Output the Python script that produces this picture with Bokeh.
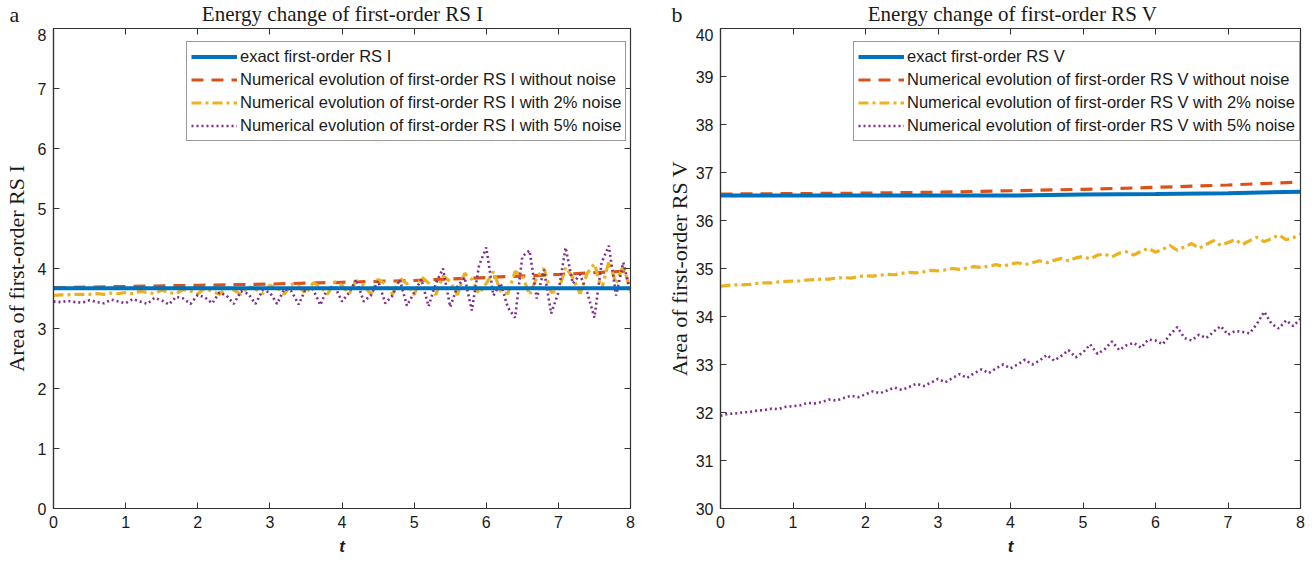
import numpy as np
from bokeh.plotting import figure
from bokeh.models import Range1d, LinearAxis, Legend, LegendItem, FixedTicker
from bokeh.layouts import row, column
from bokeh.core.properties import value
from bokeh.embed import file_html
from bokeh.resources import INLINE

# ---------------- data ----------------
t_coarse = [0, 1, 2, 3, 4, 5, 6, 7, 8]
t_fine = np.round(np.linspace(0, 8, 81), 2)

# Panel a: first-order RS I
a_exact = [3.67, 3.67, 3.67, 3.67, 3.67, 3.67, 3.67, 3.67, 3.67]
a_nonoise = [3.68, 3.70, 3.72, 3.74, 3.77, 3.80, 3.85, 3.90, 3.96]
a_noise2 = [3.55, 3.56, 3.56, 3.57, 3.57, 3.57, 3.58, 3.57, 3.59, 3.58,
            3.60, 3.58, 3.62, 3.60, 3.58, 3.64, 3.60, 3.58, 3.65, 3.62,
            3.58, 3.67, 3.62, 3.57, 3.68, 3.64, 3.57, 3.70, 3.66, 3.58,
            3.72, 3.68, 3.57, 3.74, 3.70, 3.58, 3.76, 3.70, 3.57, 3.78,
            3.72, 3.58, 3.80, 3.72, 3.57, 3.82, 3.74, 3.57, 3.84, 3.75,
            3.56, 3.86, 3.76, 3.56, 3.88, 3.78, 3.56, 3.92, 3.82, 3.58,
            3.75, 3.95, 3.62, 3.58, 3.95, 3.88, 3.56, 3.85, 4.00, 3.60,
            3.62, 4.02, 3.85, 3.58, 3.92, 4.08, 3.65, 4.12, 3.75, 4.05,
            3.62]
a_noise5 = [3.45, 3.44, 3.46, 3.44, 3.43, 3.47, 3.44, 3.42, 3.48, 3.45,
            3.42, 3.49, 3.45, 3.41, 3.51, 3.47, 3.40, 3.53, 3.50, 3.41,
            3.56, 3.52, 3.42, 3.60, 3.55, 3.41, 3.62, 3.58, 3.41, 3.64,
            3.60, 3.41, 3.66, 3.62, 3.40, 3.67, 3.65, 3.39, 3.68, 3.70,
            3.45, 3.60, 3.82, 3.45, 3.55, 3.80, 3.42, 3.55, 3.82, 3.38,
            3.60, 3.82, 3.37, 3.75, 4.00, 3.36, 3.70, 3.85, 3.30, 4.05,
            4.35, 3.55, 3.75, 3.35, 3.18, 4.20, 4.30, 3.50, 3.98, 3.25,
            3.60, 4.35, 3.75, 3.90, 3.60, 3.18, 4.10, 4.38, 3.55, 4.10,
            3.60]

# Panel b: first-order RS V
b_exact = [36.52, 36.52, 36.52, 36.52, 36.52, 36.54, 36.55, 36.57, 36.60]
b_nonoise = [36.55, 36.56, 36.57, 36.59, 36.62, 36.65, 36.69, 36.74, 36.80]
b_noise2 = [34.63, 34.65, 34.66, 34.66, 34.67, 34.69, 34.70, 34.70, 34.72, 34.73,
            34.74, 34.74, 34.76, 34.77, 34.78, 34.78, 34.80, 34.81, 34.80, 34.83,
            34.85, 34.84, 34.86, 34.88, 34.87, 34.90, 34.92, 34.91, 34.93, 34.96,
            34.95, 34.97, 35.00, 34.98, 35.01, 35.04, 35.02, 35.05, 35.08, 35.05,
            35.09, 35.12, 35.08, 35.12, 35.16, 35.12, 35.17, 35.21, 35.16, 35.22,
            35.25, 35.20, 35.28, 35.30, 35.24, 35.32, 35.35, 35.28, 35.36, 35.42,
            35.34, 35.40, 35.48, 35.38, 35.45, 35.52, 35.42, 35.50, 35.58, 35.48,
            35.54, 35.60, 35.50, 35.58, 35.65, 35.56, 35.62, 35.70, 35.60, 35.64,
            35.72]
b_noise5 = [31.93, 31.97, 31.98, 32.00, 32.01, 32.04, 32.05, 32.08, 32.07, 32.12,
            32.13, 32.15, 32.20, 32.19, 32.22, 32.27, 32.25, 32.30, 32.35, 32.32,
            32.38, 32.44, 32.40, 32.46, 32.52, 32.47, 32.53, 32.60, 32.55, 32.62,
            32.70, 32.63, 32.72, 32.80, 32.72, 32.82, 32.90, 32.82, 32.92, 33.00,
            32.92, 33.00, 33.10, 33.00, 33.08, 33.20, 33.08, 33.18, 33.30, 33.15,
            33.25, 33.42, 33.22, 33.32, 33.48, 33.30, 33.40, 33.45, 33.35, 33.52,
            33.50, 33.42, 33.62, 33.78, 33.55, 33.50, 33.62, 33.55, 33.68, 33.80,
            33.62, 33.70, 33.68, 33.65, 33.85, 34.10, 33.85, 33.75, 33.92, 33.80,
            33.95]

x_ticks = [0, 1, 2, 3, 4, 5, 6, 7, 8]
a_yticks = [0, 1, 2, 3, 4, 5, 6, 7, 8]
b_yticks = [30, 31, 32, 33, 34, 35, 36, 37, 38, 39, 40]
panel_letters = ["a", "b"]
panel_titles = ["Energy change of first-order RS I", "Energy change of first-order RS V"]

# ---------------- style ----------------
C_BLUE = "#0072BD"
C_RED = "#D95319"
C_ORANGE = "#EDB120"
C_PURPLE = "#7E2F8E"
SANS = "Liberation Sans"
SERIF = "Liberation Serif"
AXC = "#333333"
TXT = "#1a1a1a"
HEADER_H = 28
W1, W2 = 660, 655


def make_header():
    # one header strip across both panels, in pixel coordinates
    h = figure(width=W1 + W2, height=HEADER_H, x_range=Range1d(0, W1 + W2),
               y_range=Range1d(0, HEADER_H), output_backend="svg", toolbar_location=None,
               min_border=0, min_border_left=0, min_border_right=0,
               min_border_top=0, min_border_bottom=0,
               x_axis_type=None, y_axis_type=None)
    h.outline_line_color = None
    h.xgrid.visible = False
    h.ygrid.visible = False
    h.text(x=[9, W1 + 11], y=[HEADER_H - 14, HEADER_H - 14], text=panel_letters,
           text_font=value(SERIF), text_font_size="22px",
           text_align="left", text_baseline="middle", text_color=TXT)
    h.text(x=[50 + 292, W1 + 60 + 292], y=[HEADER_H - 13, HEADER_H - 13],
           text=panel_titles, text_font=value(SERIF), text_font_size="21px",
           text_align="center", text_baseline="middle", text_color=TXT)
    return h


def make_panel(width, bl, br, yr, yticks, ylabel, exact, nonoise, noise2, noise5,
               name, ylabel_standoff):
    p = figure(width=width, height=562 - HEADER_H, x_range=Range1d(0, 8), y_range=Range1d(*yr),
               output_backend="svg", toolbar_location=None,
               min_border_left=bl, min_border_right=br, min_border_top=0, min_border_bottom=54)
    p.xgrid.visible = False
    p.ygrid.visible = False
    p.outline_line_color = AXC
    p.outline_line_width = 1.2
    p.background_fill_color = "white"
    p.border_fill_color = "white"

    for ax, tk in ((p.xaxis[0], x_ticks), (p.yaxis[0], yticks)):
        ax.ticker = FixedTicker(ticks=tk)
        ax.major_tick_in = 6
        ax.major_tick_out = 0
        ax.minor_tick_line_color = None
        ax.axis_line_color = AXC
        ax.axis_line_width = 1.2
        ax.major_tick_line_color = AXC
        ax.major_label_text_font = SANS
        ax.major_label_text_font_size = "16px"
        ax.major_label_text_color = TXT
        ax.major_label_standoff = 7

    p.xaxis.axis_label = "t"
    p.xaxis.axis_label_text_font = SANS
    p.xaxis.axis_label_text_font_style = "bold italic"
    p.xaxis.axis_label_text_font_size = "17px"
    p.xaxis.axis_label_text_color = TXT
    p.xaxis.axis_label_standoff = 6

    p.yaxis.axis_label = ylabel
    p.yaxis.axis_label_text_font = SERIF
    p.yaxis.axis_label_text_font_style = "normal"
    p.yaxis.axis_label_text_font_size = "22px"
    p.yaxis.axis_label_text_color = TXT
    p.yaxis.axis_label_standoff = ylabel_standoff

    top = LinearAxis(ticker=FixedTicker(ticks=x_ticks), major_tick_in=6, major_tick_out=0,
                     minor_tick_line_color=None, axis_line_color=AXC,
                     major_tick_line_color=AXC, major_label_text_color=None,
                     major_label_text_font_size="1px", major_label_standoff=0)
    right = LinearAxis(ticker=FixedTicker(ticks=yticks), major_tick_in=6, major_tick_out=0,
                       minor_tick_line_color=None, axis_line_color=AXC,
                       major_tick_line_color=AXC, major_label_text_color=None,
                       major_label_text_font_size="1px", major_label_standoff=0)
    p.add_layout(top, "above")
    p.add_layout(right, "right")

    r_red = p.line(t_coarse, nonoise, color=C_RED, line_width=3.2, line_dash="12 8")
    r_or = p.line(t_fine, noise2, color=C_ORANGE, line_width=3.2, line_dash="10 4 3 4")
    r_pu = p.line(t_fine, noise5, color=C_PURPLE, line_width=2.6, line_dash="2 3")
    r_blue = p.line(t_coarse, exact, color=C_BLUE, line_width=4)

    items = [
        LegendItem(label="exact first-order " + name, renderers=[r_blue]),
        LegendItem(label="Numerical evolution of first-order " + name + " without noise", renderers=[r_red]),
        LegendItem(label="Numerical evolution of first-order " + name + " with 2% noise", renderers=[r_or]),
        LegendItem(label="Numerical evolution of first-order " + name + " with 5% noise", renderers=[r_pu]),
    ]
    leg = Legend(items=items, location=(133, 367), glyph_width=46, glyph_height=21,
                 label_height=21, spacing=2, padding=4, label_standoff=3, margin=0,
                 label_text_font=SANS, label_text_font_size="16.5px", label_text_color=TXT,
                 border_line_color=AXC, border_line_width=1.2,
                 background_fill_color="white", background_fill_alpha=1.0)
    p.add_layout(leg, "center")
    return p


h = make_header()
p1 = make_panel(W1, 50, 30, (0, 8), a_yticks, "Area of first-order RS I",
                a_exact, a_nonoise, a_noise2, a_noise5, "RS I", 6)
p2 = make_panel(W2, 60, 15, (30, 40), b_yticks, "Area of first-order RS V",
                b_exact, b_nonoise, b_noise2, b_noise5, "RS V", 1)

layout = column(h, row(p1, p2, spacing=0), spacing=0)
open("out.html", "w").write(file_html(layout, INLINE))
